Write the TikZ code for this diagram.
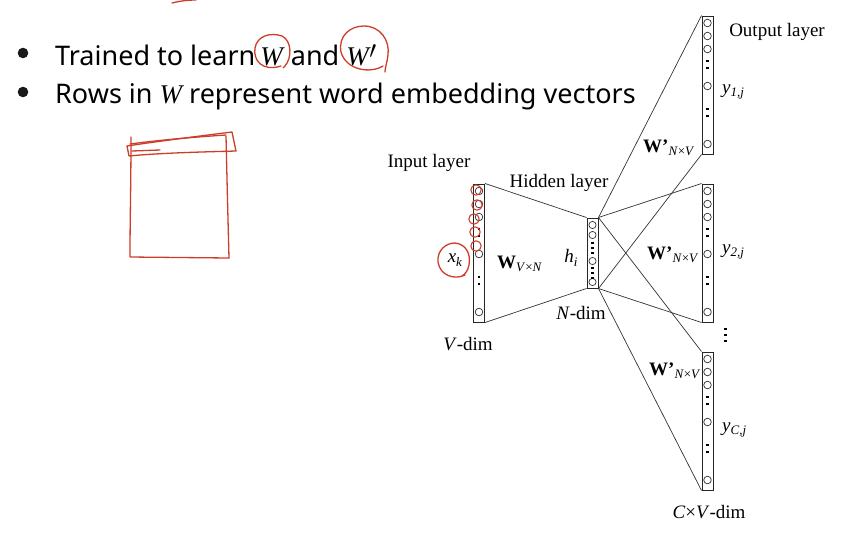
\documentclass[tikz,border=0pt]{standalone}
\usepackage{fontspec}
\setmainfont{Liberation Serif}
\newfontfamily\bulfont{Noto Sans}
\newfontfamily\wfont{Liberation Serif}
\newcommand\mysub[1]{\raisebox{-0.4ex}{\fontsize{13}{13}\selectfont #1}}
\newcommand\mw{{\wfont\itshape W}}
\newcommand\mycol[2]{%
  \foreach \o in {7,20,33,70,128} \draw[circ] (#1,#2+\o) circle (3.8);
  \foreach \o in {45,52,93,100} \fill[black] (#1-1.4,#2+\o-1.4) rectangle ++(2.8,2.8);
}
\tikzset{
  layerbox/.style={draw=black!85, line width=1pt, inner sep=0pt, minimum width=11pt},
  circ/.style={draw=black!80, line width=0.7pt},
  wire/.style={draw=black!80, line width=0.7pt},
  lab/.style={font=\fontsize{19}{19}\selectfont, inner sep=0pt},
  bul/.style={font=\bulfont\fontsize{27}{27}\selectfont, inner sep=0pt, anchor=base west},
  dotb/.style={fill=black!90},
  pen/.style={draw={rgb,255:red,205;green,62;blue,42}, line width=1.3pt, line cap=round, line join=round}
}
\begin{document}
\begin{tikzpicture}[x=1pt,y=-1pt]
\useasboundingbox[fill=white] (0,0) rectangle (844,542);

% bullets
\fill[dotb] (23,53) circle (5.3);
\coordinate (b1) at (23,53);
\fill[dotb] (23,92) circle (5.3);
\coordinate (b2) at (23,92);
\node[bul] (t1) at (55,65) {Trained to learn\hspace{5pt}\mw\hspace{8pt}and\hspace{7pt}\mw\kern0.5pt\raisebox{-0.2ex}{\fontsize{34}{34}\selectfont$'$}};
\node[bul] (t2) at (55,103) {Rows in \mw{} represent word embedding vectors};

% layer boxes
\node[layerbox, minimum height=138pt] (in) at (479,253) {};
\node[layerbox, minimum height=70pt] (hid) at (592.5,253) {};
\node[layerbox, minimum height=138pt] (o1) at (707.5,85) {};
\node[layerbox, minimum height=138pt] (o2) at (707.5,253) {};
\node[layerbox, minimum height=138pt] (oC) at (707.5,421) {};

\mycol{479}{184}
\mycol{707.5}{16}
\mycol{707.5}{184}
\mycol{707.5}{352}
% hidden circles
\foreach \o in {225,235,261,282} \draw[circ] (592.5,\o) circle (3.6);
\foreach \o in {243,248,253,268,273,278} \fill[black] (591.2,\o-1.2) rectangle ++(2.5,2.5);

% connectors
\draw[wire] (in.north east) -- (hid.north west);
\draw[wire] (in.south east) -- (hid.south west);
\draw[wire] (hid.north east) -- (o1.north west);
\draw[wire] (hid.south east) -- (o1.south west);
\draw[wire] (hid.north east) -- (o2.north west);
\draw[wire] (hid.south east) -- (o2.south west);
\draw[wire] (hid.north east) -- (oC.north west);
\draw[wire] (hid.south east) -- (oC.south west);

% vertical dots between o2 and oC
\foreach \o in {329,335,341} \fill[black] (724,\o-1.4) rectangle ++(2.8,2.8);

% labels
\node[lab] (linput) at (429,163) {Input layer};
\node[lab] (lhidden) at (559,183) {Hidden layer};
\node[lab] (loutput) at (777,32) {Output layer};
\node[lab] (xk) at (455,260) {\textit{x}\mysub{\textit{k}}};
\node[lab, anchor=west] (w1) at (497,264) {\textbf{W}\mysub{\textit{V}×\textit{N}}};
\node[lab] (hi) at (571,258) {\textit{h}\mysub{\textit{i}}};
\node[lab] (ndim) at (581,313) {\textit{N}-dim};
\node[lab] (vdim) at (468,344) {\textit{V}-dim};
\node[lab, anchor=west] (y1) at (722,92) {\textit{y}\mysub{\textit{1,j}}};
\node[lab, anchor=west] (y2) at (722,252) {\textit{y}\mysub{\textit{2,j}}};
\node[lab, anchor=west] (yC) at (722,430) {\textit{y}\mysub{\textit{C,j}}};
\node[lab, anchor=west] (wp1) at (643,148) {\textbf{W}\textbf{'}\mysub{\textit{N}×\textit{V}}};
\node[lab, anchor=west] (wp2) at (647,255) {\textbf{W}\textbf{'}\mysub{\textit{N}×\textit{V}}};
\node[lab, anchor=west] (wp3) at (649,371) {\textbf{W}\textbf{'}\mysub{\textit{N}×\textit{V}}};
\node[lab] (cvdim) at (709,512) {\textit{C}×\textit{V}-dim};

% red annotations
\draw[pen] (172,3) .. controls (180,1) and (188,0) .. (196,0);
\draw[pen] (281,66) .. controls (262,72) and (253,60) .. (255,48) .. controls (257,36) and (270,32) .. (282,36) .. controls (292,41) and (292,58) .. (285,66) -- (283,68);
\draw[pen] (383,66) .. controls (370,74) and (346,70) .. (341,52) .. controls (338,36) and (350,26) .. (364,26) .. controls (380,26) and (390,40) .. (388,55) .. controls (387,63) and (385,68) .. (385,72);
\draw[pen] (465,275) .. controls (455,280) and (440,276) .. (438,262) .. controls (437,250) and (446,243) .. (455,243) .. controls (466,244) and (471,254) .. (469,265) .. controls (468,271) and (465,274) .. (462,276);
\foreach \cx/\cy in {476/190, 477/205, 474/219, 475/232, 476/246} \draw[pen, line width=1.1pt] (\cx,\cy) circle (5.2);
% sketched box
\draw[pen] (127,146) .. controls (160,141) and (200,136) .. (232,132) -- (236,151) .. controls (200,152) and (160,153) .. (129,156) -- cycle;
\draw[pen] (130,144) .. controls (160,140) and (195,137) .. (226,135);
\draw[pen] (131,137) .. controls (131,180) and (130,220) .. (130,257) -- (229,258);
\draw[pen] (226,136) .. controls (227,180) and (228,220) .. (229,258);
\draw[pen] (132,151) -- (160,150);
\end{tikzpicture}
\end{document}
